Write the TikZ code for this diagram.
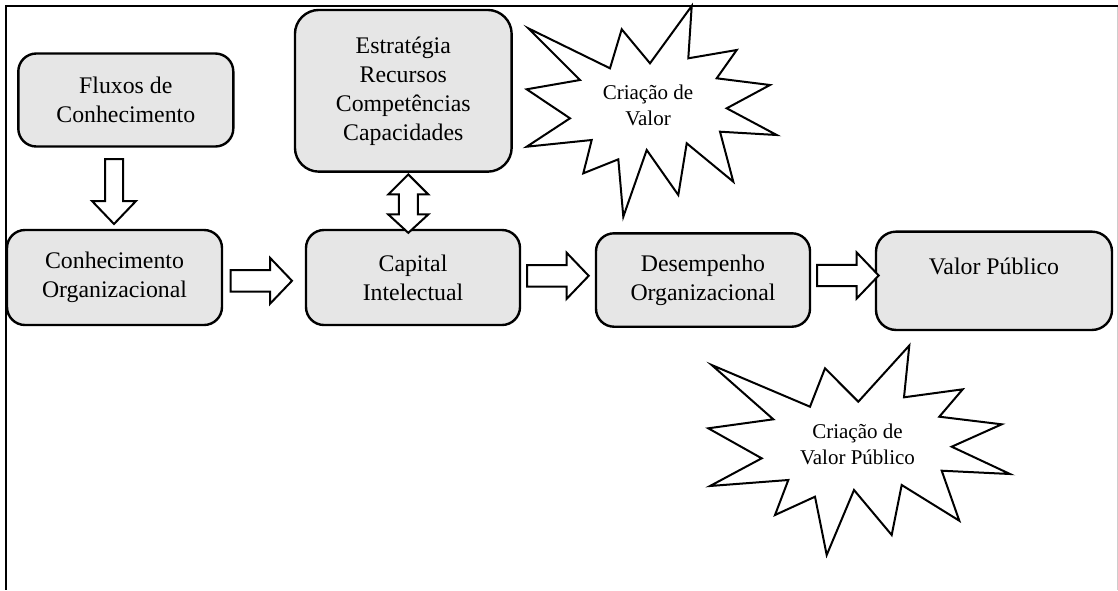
\documentclass[tikz,border=0pt]{standalone}
\usepackage{fontspec}
\setmainfont{Liberation Serif}
\usetikzlibrary{calc}

\definecolor{boxfill}{RGB}{230,230,230}
\definecolor{framegray}{RGB}{205,205,205}

\tikzset{
  box/.style={draw=black, line width=2.4pt, fill=boxfill, rounded corners=18pt,
    align=center, inner sep=0pt, font=\fontsize{23.8}{29}\selectfont},
  blockarrow/.style={draw=black, line width=2pt, fill=white, line join=miter},
  burst/.style={draw=black, line width=2pt, fill=white, line join=miter},
  bursttext/.style={align=center, inner sep=0pt, font=\fontsize{21}{26.7}\selectfont},
  frameline/.style={line width=2pt},
  % hollow block arrow pointing right, origin at the middle of its tail
  pics/rightblock/.style={code={
    \draw[blockarrow] (0,-10.7) -- (39.5,-10.7) -- (39.5,-23) -- (61.5,0)
      -- (39.5,23) -- (39.5,10.7) -- (0,10.7) -- cycle;}},
  % hollow block arrow pointing down, origin at the middle of its tail
  pics/downblock/.style={code={
    \draw[blockarrow] (-9,0) -- (9,0) -- (9,42) -- (22,42) -- (0,65)
      -- (-22,42) -- (-9,42) -- cycle;}},
  % hollow vertical double arrow, origin at its upper tip
  pics/updownblock/.style={code={
    \draw[blockarrow] (0,0) -- (20,20) -- (9.5,20) -- (9.5,40) -- (20,40)
      -- (0,58.4) -- (-20,40) -- (-9.5,40) -- (-9.5,20) -- (-20,20) -- cycle;}}
}

\begin{document}
\begin{tikzpicture}[x=1pt, y=-1pt]
\useasboundingbox (0,0) rectangle (1118,590);

% outer frame
\draw[framegray, line width=1pt] (1117.2,6) -- (1117.2,590);
\draw[frameline] (6,6) -- (1118,6);
\draw[frameline] (6,5) -- (6,590);

% boxes
\node[box, minimum width=215pt, minimum height=93pt] (flux) at (125.8,100)
  {Fluxos de\\Conhecimento};
\node[box, minimum width=215pt, minimum height=95pt] (conh) at (114.5,277.5)
  {Conhecimento\\Organizacional};
\node[box, minimum width=216.7pt, minimum height=161.7pt, rounded corners=24pt]
  (estr) at (403.3,90.8)
  {Estratégia\\Recursos\\Competências\\Capacidades};
\node[box, minimum width=214pt, minimum height=95pt] (cap) at (413,277.5)
  {Capital\\Intelectual};
\node[box, minimum width=214pt, minimum height=93.4pt] (desemp) at (703,280)
  {Desempenho\\Organizacional};
\node[box, minimum width=236pt, minimum height=98.3pt, rounded corners=20pt]
  (valor) at (994,280.8)
  {Valor Público\\\mbox{}};

% block arrows between the boxes
\pic at ($(flux.south)+(-11.8,11.3)$) {downblock};
\pic at ($(conh.east)+(7.3,3.3)$) {rightblock};
\pic at ($(cap.east)+(6,-1.7)$) {rightblock};
\pic at ($(desemp.east)+(6,-4.5)$) {rightblock};
\pic at ($(estr.south)+(5,1.6)$) {updownblock};

% first burst
\draw[burst] (691.7,6) -- (688.3,58.3) -- (736.7,50) -- (716.7,78.3)
  -- (770,85) -- (726.7,108.3) -- (776.7,135) -- (720,131.7)
  -- (733.3,181.7) -- (686.7,143.3) -- (678.3,195) -- (646.7,150)
  -- (623.3,216.7) -- (618.3,159.3) -- (583.3,173.3) -- (591.7,140)
  -- (526.7,146.7) -- (570,118.3) -- (526.7,89.3) -- (580,80)
  -- (528.3,28.3) -- (610,68.3) -- (621.7,29.3) -- (650,63.3) -- cycle;
\node[bursttext] (burstA) at (648,105.5) {Criação de\\Valor};

% second burst
\draw[burst] (711.7,365) -- (810,406.7) -- (825,368.3) -- (858.3,401.7)
  -- (909.3,345.5) -- (904,397.3) -- (962.7,389.3) -- (939.3,416.7)
  -- (1001.7,424.3) -- (951.7,446.7) -- (1010,474) -- (941.7,470.7)
  -- (959.3,520.7) -- (901.7,485) -- (891.7,535) -- (854,490)
  -- (826.7,555) -- (815,496.7) -- (775,515) -- (788.3,480)
  -- (710,486) -- (761.7,458.3) -- (708.3,428.3) -- (773.3,419.3) -- cycle;
\node[bursttext] (burstB) at (857.5,444.5) {Criação de\\Valor Público};
\end{tikzpicture}
\end{document}
